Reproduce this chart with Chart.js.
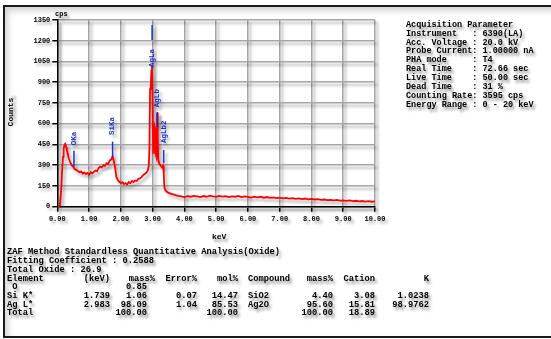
<!DOCTYPE html>
<html><head><meta charset="utf-8">
<script src="https://cdn.jsdelivr.net/npm/chart.js@4/dist/chart.umd.min.js"></script>
<style>
html,body{margin:0;padding:0;background:#fff;width:551px;height:339px;overflow:hidden;}
#wrap{position:relative;width:551px;height:339px;filter:blur(0.35px);}
#frame{position:absolute;left:3px;top:5px;width:600px;height:329px;border:2px solid #1a1a1a;box-shadow:inset 3px 4px 6px rgba(0,0,0,0.18);}
canvas{position:absolute;left:0;top:0;}
.t{position:absolute;font-family:"Liberation Mono",monospace;font-weight:bold;color:#000;white-space:pre;text-shadow:2px 3px 3px rgba(0,0,0,0.45);}
</style></head>
<body><div id="wrap"><div id="frame"></div><canvas id="c" width="400" height="240"></canvas></div>
<script>
// ---- data ----
const energy = [
0.00,0.05,0.08,0.10,0.12,0.15,0.18,0.20,0.23,0.25,
0.28,0.30,0.33,0.36,0.40,0.45,0.50,0.55,0.60,0.65,
0.70,0.75,0.80,0.85,0.90,0.95,1.00,1.05,1.10,1.15,
1.20,1.25,1.30,1.35,1.40,1.45,1.50,1.55,1.60,1.65,
1.70,1.74,1.78,1.82,1.86,1.90,1.95,2.00,2.05,2.10,
2.15,2.20,2.25,2.30,2.35,2.40,2.45,2.50,2.55,2.60,
2.65,2.70,2.75,2.80,2.85,2.88,2.90,2.92,2.94,2.96,
2.98,3.00,3.02,3.04,3.06,3.08,3.10,3.12,3.14,3.16,
3.18,3.21,3.24,3.27,3.30,3.33,3.35,3.37,3.40,3.45,
3.50,3.55,3.60,3.70,3.80,3.90,4.00,4.10,4.20,4.30,
4.40,4.50,4.60,4.70,4.80,4.90,5.00,5.10,5.20,5.30,
5.40,5.50,5.60,5.70,5.80,5.90,6.00,6.10,6.20,6.30,
6.40,6.50,6.60,6.70,6.80,6.90,7.00,7.10,7.20,7.30,
7.40,7.50,7.60,7.70,7.80,7.90,8.00,8.10,8.20,8.30,
8.40,8.50,8.60,8.70,8.80,8.90,9.00,9.10,9.20,9.30,
9.40,9.50,9.60,9.70,9.80,9.90,10.00];
const counts = [
0,0,5,60,110,250,360,420,450,455,
430,410,385,350,325,300,290,272,266,258,
250,255,240,248,236,244,230,250,240,252,
262,256,280,290,284,300,294,315,308,335,
340,365,330,280,215,195,180,172,176,165,
170,160,178,170,186,178,190,186,200,205,
214,228,236,245,262,300,420,850,860,980,
1020,700,390,520,580,560,380,360,680,500,
340,312,300,292,285,296,240,140,120,108,
100,96,92,85,78,74,70,76,72,78,
74,70,77,72,80,74,71,78,73,76,
70,75,72,78,69,74,71,66,73,68,
72,65,70,64,68,62,66,60,64,58,
62,57,60,55,59,53,56,52,55,50,
52,48,50,46,49,44,46,42,45,40,
43,38,41,37,40,36,38];
const xTicks = [0,1,2,3,4,5,6,7,8,9,10];
const yTicks = [0,150,300,450,600,750,900,1050,1200,1350];
const markerNames = ['OKa','SiKa','AgLa','AgLb','AgLb2'];
const markerEnergy = [0.525,1.740,2.984,3.151,3.348];
const markerLineFrom = [290,360,1205,575,315];
const markerLineTo = [405,470,1314,684,410];
const markerLabelAt = [445,518,1010,720,460];
const acqLines = [
'Acquisition Parameter',
'Instrument   : 6390(LA)',
'Acc. Voltage : 20.0 kV',
'Probe Current: 1.00000 nA',
'PHA mode     : T4',
'Real Time    : 72.66 sec',
'Live Time    : 50.00 sec',
'Dead Time    : 31 %',
'Counting Rate: 3595 cps',
'Energy Range : 0 - 20 keV'];
const quantLines = [
'ZAF Method Standardless Quantitative Analysis(Oxide)',
'Fitting Coefficient : 0.2588',
'Total Oxide : 26.9'];
const tableHeader = ['Element','(keV)','mass%','Error%','mol%','Compound','mass%','Cation','K'];
const tableRows = [
[' O','','0.85','','','','','',''],
['Si K*','1.739','1.06','0.07','14.47','SiO2','4.40','3.08','1.0238'],
['Ag L*','2.983','98.09','1.04','85.53','Ag2O','95.60','15.81','98.9762'],
['Total','','100.00','','100.00','','100.00','18.89','']];

// ---- text layout ----
const wrap = document.getElementById('wrap');
function addText(txt, x, y, size, align, extra){
  const d = document.createElement('div');
  d.className='t'; d.textContent=txt;
  d.style.fontSize=size+'px'; d.style.lineHeight=size+'px';
  d.style.top=(y-size/2)+'px';
  if(align==='right'){ d.style.right=(551-x)+'px'; } else { d.style.left=x+'px'; }
  if(extra) Object.assign(d.style, extra);
  wrap.appendChild(d); return d;
}
acqLines.forEach((l,i)=>addText(l,406,25+i*8.9,8.5,'left'));
quantLines.forEach((l,i)=>addText(l,7,252.3+i*8.85,8.75,'left'));
const colLeft = [7,null,null,null,null,248,null,null,null];
const hdrRight = [null,110,155,197,238,null,333,375,429];
const valRight = [null,110,147,197,238,null,333,375,429];
tableHeader.forEach((h,j)=>{
  if(colLeft[j]!==null) addText(h,colLeft[j],279.3,8.75,'left');
  else addText(h,hdrRight[j],279.3,8.75,'right');
});
tableRows.forEach((r,i)=>{
  const y = 287.8+i*8.6;
  r.forEach((v,j)=>{
    if(!v) return;
    if(colLeft[j]!==null) addText(v,colLeft[j],y,8.75,'left');
    else addText(v,valRight[j],y,8.75,'right');
  });
});
addText('keV',212,237,8,'left');
addText('cps',55,14,7,'left');
addText('Counts',0,112,8,'left',{left:'-3px',transform:'rotate(-90deg)',transformOrigin:'center'});

// ---- chart ----
const FONT = {family:'"Liberation Mono", monospace', weight:'bold', size:7};
const shadowPlugin = {
  id:'shadow',
  beforeDraw(c){ const g=c.ctx; g.save(); g.shadowColor='rgba(0,0,0,0.33)'; g.shadowBlur=3; g.shadowOffsetX=2.5; g.shadowOffsetY=3; },
  afterDraw(c){ c.ctx.restore(); }
};
const markerPlugin = {
  id:'markers',
  afterDatasetsDraw(c){
    const g=c.ctx, xs=c.scales.x, ys=c.scales.y;
    g.save();
    g.strokeStyle='#1f2fd0'; g.fillStyle='#1f2fd0'; g.lineWidth=1.5;
    markerNames.forEach((n,i)=>{
      const px = xs.getPixelForValue(markerEnergy[i]);
      g.beginPath();
      g.moveTo(px, ys.getPixelForValue(markerLineFrom[i]));
      g.lineTo(px, ys.getPixelForValue(markerLineTo[i]));
      g.stroke();
      g.save();
      g.translate(px, ys.getPixelForValue(markerLabelAt[i]));
      g.rotate(-Math.PI/2);
      g.font='bold 7.5px "Liberation Mono", monospace';
      g.textAlign='left'; g.textBaseline='middle';
      g.fillText(n,0,0);
      g.restore();
    });
    g.restore();
  }
};
new Chart(document.getElementById('c'), {
  type:'line',
  data:{datasets:[{
    data: energy.map((e,i)=>({x:e,y:counts[i]})),
    borderColor:'#ff0000', borderWidth:1.8, pointRadius:0, tension:0, fill:false
  }]},
  options:{
    responsive:false, animation:false, devicePixelRatio:1,
    layout:{padding:{top:20,right:25,left:0,bottom:0}},
    plugins:{legend:{display:false}, tooltip:{enabled:false}},
    scales:{
      x:{type:'linear', min:0, max:10,
        afterBuildTicks(s){ s.ticks = xTicks.map(v=>({value:v})); },
        ticks:{font:FONT, color:'#000', maxRotation:0, autoSkip:false, padding:3, callback:v=>Number(v).toFixed(2)},
        grid:{color:'#a6a6a6', lineWidth:1.5, tickColor:'#000', tickLength:5},
        border:{color:'#000', width:1.5},
        afterFit(s){ s.height = 33.3; }
      },
      y:{type:'linear', min:0, max:1350,
        afterBuildTicks(s){ s.ticks = yTicks.map(v=>({value:v})); },
        ticks:{font:FONT, color:'#000', padding:2, autoSkip:false, callback:v=>String(v)},
        grid:{color:'#a6a6a6', lineWidth:1.5, tickColor:'#000', tickLength:5},
        border:{color:'#000', width:1.5},
        afterFit(s){ s.width = 57.3; }
      }
    }
  },
  plugins:[shadowPlugin, markerPlugin]
});
</script></body></html>
